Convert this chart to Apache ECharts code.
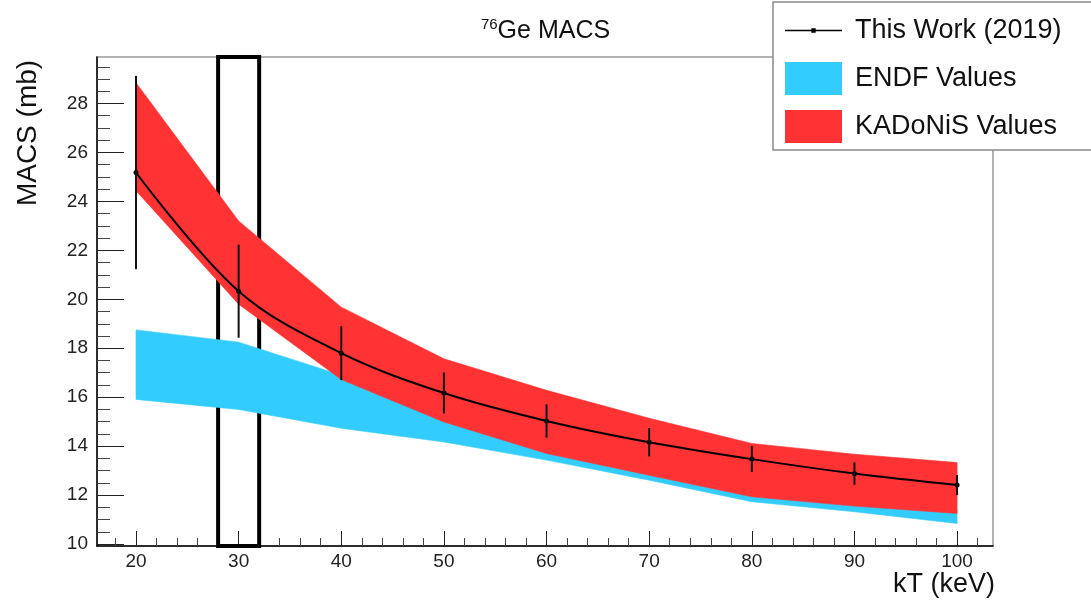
<!DOCTYPE html>
<html>
<head>
<meta charset="utf-8">
<script src="https://cdn.jsdelivr.net/npm/echarts@6/dist/echarts.min.js"></script>
<style>
  html, body { margin: 0; padding: 0; background: #fff; }
  #chart { width: 1091px; height: 602px; }
</style>
</head>
<body>
<div id="chart"></div>
<script>
// Maxwellian-averaged cross sections of 76Ge versus thermal energy kT
const kT = [20, 30, 40, 50, 60, 70, 80, 90, 100];
const thisWork    = [25.18, 20.33, 17.80, 16.17, 15.03, 14.16, 13.47, 12.88, 12.41];
const thisWorkErr = [3.95, 1.90, 1.10, 0.84, 0.68, 0.58, 0.53, 0.46, 0.41];
const endfLow     = [15.91, 15.50, 14.73, 14.17, 13.43, 12.61, 11.73, 11.32, 10.84];
const endfHigh    = [18.75, 18.25, 16.90, 15.20, 13.90, 13.00, 12.10, 11.70, 11.40];
const kadonisLow  = [24.44, 19.80, 16.72, 14.99, 13.70, 12.81, 11.93, 11.55, 11.25];
const kadonisHigh = [28.85, 23.20, 19.68, 17.57, 16.28, 15.14, 14.11, 13.67, 13.33];

// axis ticks and labels
const xMajorTicks = [20, 30, 40, 50, 60, 70, 80, 90, 100];
const xMinorTicks = [18, 22, 24, 26, 28, 32, 34, 36, 38, 42, 44, 46, 48, 52, 54, 56, 58,
                     62, 64, 66, 68, 72, 74, 76, 78, 82, 84, 86, 88, 92, 94, 96, 98, 102];
const yMajorTicks = [10, 12, 14, 16, 18, 20, 22, 24, 26, 28];
const yMinorTicks = [];
for (let v = 10.5; v < 29.9; v += 0.5) {
  if (Math.abs(v / 2 - Math.round(v / 2)) > 1e-6) yMinorTicks.push(v);
}

// highlighted kT window (keV)
const highlightKT = [28, 32];

const FONT = '"Liberation Sans", Arial, Helvetica, sans-serif';
const BLUE = '#33ccff';
const RED = '#ff3333';

const X_MIN = 16.2, X_MAX = 103.5, Y_MIN = 9.92, Y_MAX = 29.9;

const chart = echarts.init(document.getElementById('chart'), null, { renderer: 'canvas' });

// A filled band between two curves, drawn as one polygon through the axis scales.
function bandSeries(name, lo, hi, color, z) {
  return {
    name, type: 'custom', z,
    clip: true,
    itemStyle: { color },
    data: kT.map((x, i) => [x, lo[i], hi[i]]),
    encode: { x: 0, y: [1, 2] },
    renderItem(params, api) {
      if (params.dataIndex !== 0) return null;
      const upper = kT.map((x, i) => api.coord([x, hi[i]]));
      const lower = kT.map((x, i) => api.coord([x, lo[i]])).reverse();
      return {
        type: 'polygon',
        shape: { points: upper.concat(lower) },
        style: { fill: color, stroke: color, lineWidth: 0.6 }
      };
    }
  };
}

const baseAxisX = { type: 'value', min: X_MIN, max: X_MAX, splitLine: { show: false } };
const baseAxisY = { type: 'value', min: Y_MIN, max: Y_MAX, splitLine: { show: false } };

chart.setOption({
  animation: false,
  backgroundColor: '#fff',
  title: {
    text: '{sup|76}{main|Ge MACS}',
    left: 'center',
    top: 12,
    textStyle: {
      fontWeight: 'normal',
      rich: {
        sup: { fontFamily: FONT, fontSize: 15, fontWeight: 'normal', color: '#111', padding: [0, 0, 14, 0] },
        main: { fontFamily: FONT, fontSize: 25, fontWeight: 'normal', color: '#111' }
      }
    }
  },
  grid: {
    left: 97, right: 98, top: 57, bottom: 56,
    show: true, borderColor: '#9a9a9a', borderWidth: 1.5, backgroundColor: 'transparent'
  },
  legend: {
    orient: 'vertical',
    left: 773, top: 2,
    padding: [12, 40, 7, 12],
    itemWidth: 57, itemHeight: 33, itemGap: 15,
    backgroundColor: '#fff',
    borderColor: '#8a8a8a', borderWidth: 1.5,
    selectedMode: false,
    textStyle: { fontFamily: FONT, fontSize: 27, color: '#111', padding: [0, 0, 0, 8] },
    data: [
      {
        name: 'This Work (2019)',
        icon: 'path://M0,0L0.01,0L0.01,0.01Z M57,33L56.99,33L56.99,32.99Z M0,15.8L57,15.8L57,17.2L0,17.2Z M26.3,14.3L30.7,14.3L30.7,18.7L26.3,18.7Z',
        itemStyle: { color: '#000', borderColor: '#000', borderWidth: 0 }
      },
      { name: 'ENDF Values', icon: 'rect', itemStyle: { color: BLUE, borderWidth: 0 } },
      { name: 'KADoNiS Values', icon: 'rect', itemStyle: { color: RED, borderWidth: 0 } }
    ]
  },
  xAxis: [
    Object.assign({}, baseAxisX, {
      position: 'bottom',
      axisLine: { show: true, lineStyle: { color: '#000', width: 1.5 } },
      axisTick: { show: true, inside: true, length: 15, customValues: xMajorTicks, lineStyle: { color: '#222', width: 1 } },
      axisLabel: { show: true, customValues: xMajorTicks, margin: 6, fontFamily: FONT, fontSize: 19, color: '#222' }
    }),
    Object.assign({}, baseAxisX, {
      position: 'bottom',
      axisLine: { show: false },
      axisTick: { show: true, inside: true, length: 8, customValues: xMinorTicks, lineStyle: { color: '#444', width: 1 } },
      axisLabel: { show: false }
    })
  ],
  yAxis: [
    Object.assign({}, baseAxisY, {
      position: 'left',
      axisLine: { show: true, lineStyle: { color: '#000', width: 1.5 } },
      axisTick: { show: true, inside: true, length: 27, customValues: yMajorTicks, lineStyle: { color: '#222', width: 1 } },
      axisLabel: { show: true, customValues: yMajorTicks, margin: 9, fontFamily: FONT, fontSize: 19, color: '#222' }
    }),
    Object.assign({}, baseAxisY, {
      position: 'left',
      axisLine: { show: false },
      axisTick: { show: true, inside: true, length: 13, customValues: yMinorTicks, lineStyle: { color: '#444', width: 1 } },
      axisLabel: { show: false }
    })
  ],
  graphic: [
    {
      type: 'text', x: 28, y: 133, rotation: Math.PI / 2,
      style: { text: 'MACS (mb)', fontFamily: FONT, fontSize: 28, fill: '#111', textAlign: 'center', textVerticalAlign: 'middle' }
    },
    {
      type: 'text', x: 995, y: 585,
      style: { text: 'kT (keV)', fontFamily: FONT, fontSize: 27, fill: '#111', textAlign: 'right', textVerticalAlign: 'middle' }
    }
  ],
  series: [
    bandSeries('ENDF Values', endfLow, endfHigh, BLUE, 1),
    bandSeries('KADoNiS Values', kadonisLow, kadonisHigh, RED, 2),
    // this work: smooth curve through the measured points
    {
      name: 'This Work (2019)', type: 'line', data: kT.map((x, i) => [x, thisWork[i]]),
      smooth: 0.35,
      symbol: 'circle', symbolSize: 5,
      lineStyle: { color: '#000', width: 2 },
      itemStyle: { color: '#000' }, z: 4
    },
    // vertical error bars
    {
      name: 'this-work-errors', type: 'custom',
      data: kT.map((x, i) => [x, thisWork[i], thisWorkErr[i]]),
      encode: { x: 0, y: 1 },
      renderItem(params, api) {
        const x = api.value(0), y = api.value(1), e = api.value(2);
        const p1 = api.coord([x, y + e]);
        const p2 = api.coord([x, y - e]);
        return {
          type: 'line',
          shape: { x1: p1[0], y1: p1[1], x2: p2[0], y2: p2[1] },
          style: { stroke: '#111', lineWidth: 2 }
        };
      },
      z: 5
    },
    // highlighted kT window
    {
      name: 'kt-window', type: 'line', data: [], z: 6, silent: true,
      markArea: {
        silent: true,
        itemStyle: { color: 'rgba(0,0,0,0)', borderColor: '#000', borderWidth: 4 },
        data: [[{ xAxis: highlightKT[0] }, { xAxis: highlightKT[1] }]]
      }
    }
  ]
});
</script>
</body>
</html>
